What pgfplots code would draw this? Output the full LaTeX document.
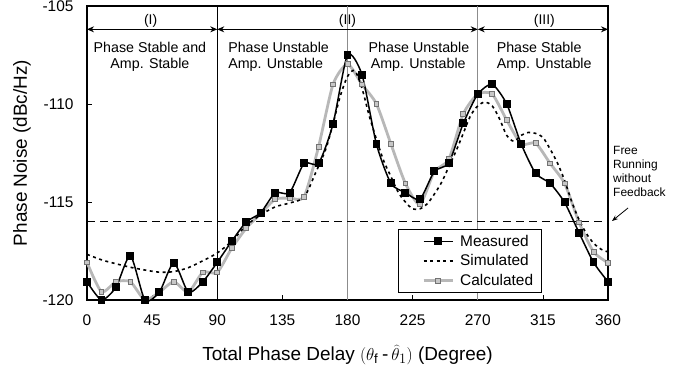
\documentclass[border=0pt]{standalone}
\usepackage{pgfplots}
\pgfplotsset{compat=1.18}
\usepackage{fontspec}
\setmainfont{Liberation Sans}
\usetikzlibrary{arrows.meta}
\definecolor{calcline}{gray}{0.72}
\definecolor{calcmark}{gray}{0.45}
\definecolor{calcfill}{gray}{0.78}
\definecolor{vline}{gray}{0.55}

\pgfplotstableread{
x y
0 -119.07
10 -120.0
20 -119.35
30 -117.74
40 -120.0
50 -119.6
60 -118.1
70 -119.6
80 -119.07
90 -118.08
100 -117.0
110 -116.02
120 -115.55
130 -114.53
140 -114.53
150 -113.03
160 -113.03
170 -111.02
180 -107.5
190 -108.5
200 -112.05
210 -114.05
220 -114.52
230 -114.86
240 -113.44
250 -113.0
260 -110.99
270 -109.5
280 -109.0
290 -110.0
300 -112.04
310 -113.54
320 -114.05
330 -115.02
340 -116.57
350 -118.08
360 -119.07
}\measured

\pgfplotstableread{
x y
0 -118.08
10 -119.58
20 -119.07
30 -119.07
40 -120.0
50 -119.6
60 -119.07
70 -119.6
80 -118.59
90 -118.59
100 -117.36
110 -116.34
120 -115.6
130 -114.86
140 -114.8
150 -114.73
160 -112.18
170 -109.0
180 -107.97
190 -109.0
200 -110.0
210 -112.04
220 -114.05
230 -115.12
240 -113.45
250 -112.82
260 -110.51
270 -109.5
280 -109.5
290 -110.82
300 -112.04
310 -112.0
320 -113.03
330 -114.05
340 -116.04
350 -117.54
360 -118.1
}\calculated

\pgfplotstableread{
x y
0 -117.67
10 -117.95
20 -118.15
30 -118.33
40 -118.47
50 -118.58
60 -118.55
70 -118.35
80 -118.0
90 -117.6
100 -117.0
110 -116.2
120 -115.66
130 -115.25
140 -115.05
150 -114.75
158 -113.5
165 -112.3
170 -111.0
175 -109.6
180 -108.6
185 -108.3
190 -109.2
195 -110.6
200 -111.8
205 -112.9
210 -113.7
215 -114.5
220 -115.0
225 -115.35
230 -115.35
235 -115.1
240 -114.6
245 -114.0
250 -113.2
255 -112.4
260 -111.5
265 -110.6
270 -110.1
275 -109.9
280 -110.1
285 -110.75
290 -111.6
295 -111.9
300 -111.6
305 -111.45
310 -111.5
315 -111.7
320 -112.3
325 -113.0
330 -113.9
335 -115.0
340 -115.9
345 -116.6
350 -117.1
355 -117.4
360 -117.55
}\simulated

\begin{document}
\begin{tikzpicture}[x=1bp,y=1bp]
\path[use as bounding box] (0,0) rectangle (695,373);
\begin{axis}[
  at={(87bp,73bp)}, anchor=south west,
  scale only axis, width=521bp, height=294bp,
  xmin=0, xmax=360, ymin=-120, ymax=-105,
  clip=false,
  xtick={0,45,...,360}, ytick={-120,-115,-110,-105},
  yticklabels={-120,-115,-110,-105},
  tick align=inside, major tick length=5bp,
  xtick pos=bottom, ytick pos=left,
  axis line style={line width=1.3pt},
  tick style={line width=0.6pt, black},
  ticklabel style={font=\fontsize{15.5}{18}\selectfont},
  xticklabel style={yshift=-11bp},
  yticklabel style={xshift=-10bp},
  /pgf/number format/assume math mode=true,
  xlabel={Total Phase Delay $(\theta_{\mathrm{f}}\mkern4mu\mbox{-}\mkern3mu\widehat{\theta}_{1})$ (Degree)},
  ylabel={Phase Noise (dBc/Hz)},
  label style={font=\fontsize{19}{22}\selectfont},
  xlabel style={at={(axis description cs:0.5,-0.187)}, anchor=center},
  ylabel style={at={(axis description cs:-0.125,0.5)}, anchor=center},
  reverse legend,
  legend style={at={(axis description cs:0.597,0.241)}, anchor=north west,
    draw=black, line width=0.6pt, font=\fontsize{15.5}{18}\selectfont,
    row sep=3bp, inner xsep=6bp, inner ysep=3.5bp, cells={anchor=west}},
  legend image code/.code={\path (0bp,0bp) (51bp,0bp); \draw[mark repeat=2,mark phase=2] plot coordinates {(18bp,0bp) (32.5bp,0bp) (47bp,0bp)};},
]
% reference lines
\addplot[forget plot, black, line width=0.6pt] coordinates {(90,-120) (90,-105)};
\addplot[forget plot, vline, line width=0.8pt] coordinates {(180,-120) (180,-105)};
\addplot[forget plot, vline, line width=0.8pt] coordinates {(270,-120) (270,-105)};
\addplot[forget plot, black, line width=1pt, dash pattern=on 8bp off 5bp] coordinates {(0,-116) (360,-116)};
% region arrows
\draw[line width=1.1pt, {Stealth[length=7bp,width=6bp]}-{Stealth[length=7bp,width=6bp]}] (axis cs:0,-106.19) -- (axis cs:90,-106.19);
\draw[line width=1.1pt, {Stealth[length=7bp,width=6bp]}-{Stealth[length=7bp,width=6bp]}] (axis cs:90,-106.19) -- (axis cs:270,-106.19);
\draw[line width=1.1pt, {Stealth[length=7bp,width=6bp]}-{Stealth[length=7bp,width=6bp]}] (axis cs:270,-106.19) -- (axis cs:360,-106.19);
\node[anchor=base, font=\fontsize{14}{17}\selectfont, inner sep=0] at (axis cs:44,-105.94) {(I)};
\node[anchor=base, font=\fontsize{14}{17}\selectfont, inner sep=0] at (axis cs:180,-105.94) {(II)};
\node[anchor=base, font=\fontsize{14}{17}\selectfont, inner sep=0] at (axis cs:316,-105.94) {(III)};
\node[anchor=base, font=\fontsize{14.3}{17}\selectfont, inner sep=0] at (axis cs:43.5,-107.38) {Phase Stable and};
\node[anchor=base, font=\fontsize{14.3}{17}\selectfont, inner sep=0] at (axis cs:43.5,-108.21) {Amp. Stable};
\node[anchor=base west, font=\fontsize{14.3}{17}\selectfont, inner sep=0] at (axis cs:97.5,-107.38) {Phase Unstable};
\node[anchor=base west, font=\fontsize{14.3}{17}\selectfont, inner sep=0] at (axis cs:97.5,-108.21) {Amp. Unstable};
\node[anchor=base west, font=\fontsize{14.3}{17}\selectfont, inner sep=0] at (axis cs:194.5,-107.38) {Phase Unstable};
\node[anchor=base west, font=\fontsize{14.3}{17}\selectfont, inner sep=0] at (axis cs:196,-108.21) {Amp. Unstable};
\node[anchor=base west, font=\fontsize{14.3}{17}\selectfont, inner sep=0] at (axis cs:283,-107.38) {Phase Stable};
\node[anchor=base west, font=\fontsize{14.3}{17}\selectfont, inner sep=0] at (axis cs:283,-108.21) {Amp. Unstable};
% data
\addplot[calcline, line width=2.8bp, smooth, tension=0.4,
  mark=square*, mark size=2.4bp,
  mark options={draw=calcmark, fill=calcfill, line width=0.8pt}]
  table[x=x,y=y] {\calculated};
\addlegendentry{Calculated}
\addplot[black, line width=1.6bp, smooth, tension=0.5, dash pattern=on 3bp off 3.5bp]
  table[x=x,y=y] {\simulated};
\addlegendentry{Simulated}
\addplot[black, line width=1.5bp, smooth, tension=0.4,
  mark=square*, mark size=3.2bp, mark options={solid, fill=black}]
  table[x=x,y=y] {\measured};
\addlegendentry{Measured}
\end{axis}
% free running annotation
\node[anchor=base west, font=\fontsize{12}{14}\selectfont, inner sep=0] at (613,219) {Free};
\node[anchor=base west, font=\fontsize{12}{14}\selectfont, inner sep=0] at (613,205) {Running};
\node[anchor=base west, font=\fontsize{12}{14}\selectfont, inner sep=0] at (613,191) {without};
\node[anchor=base west, font=\fontsize{12}{14}\selectfont, inner sep=0] at (613,177) {Feedback};
\draw[line width=0.8pt, -{Stealth[length=6bp,width=4.5bp]}] (628,165) -- (612,152);
\end{tikzpicture}
\end{document}
